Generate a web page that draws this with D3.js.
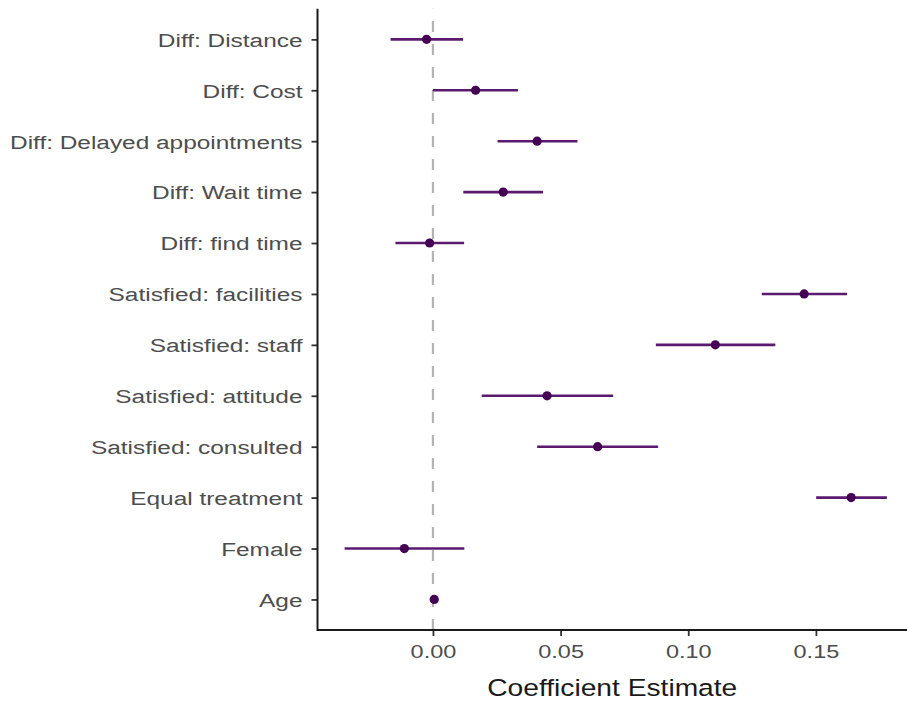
<!DOCTYPE html>
<html>
<head>
<meta charset="utf-8">
<script src="https://cdn.jsdelivr.net/npm/d3@7"></script>
<style>
  html, body { margin: 0; padding: 0; background: #fff; }
  svg { display: block; font-family: "Liberation Sans", Arial, Helvetica, sans-serif; }
</style>
</head>
<body>
<svg id="chart" width="907" height="703"></svg>
<script>
// Model terms, top to bottom
const terms = [
  "Diff: Distance", "Diff: Cost", "Diff: Delayed appointments", "Diff: Wait time",
  "Diff: find time", "Satisfied: facilities", "Satisfied: staff", "Satisfied: attitude",
  "Satisfied: consulted", "Equal treatment", "Female", "Age"
];
// Point estimates
const estimate = [-0.0025, 0.0167, 0.0408, 0.0275, -0.0013, 0.1454, 0.1106, 0.0447, 0.0645, 0.1638, -0.0112, 0.0005];
// 95% interval bounds
const lower = [-0.0166, 0.0000, 0.0253, 0.0119, -0.0147, 0.1288, 0.0873, 0.0191, 0.0408, 0.1501, -0.0346, 0.0003];
const upper = [0.0118, 0.0333, 0.0566, 0.0431, 0.0122, 0.1622, 0.1341, 0.0706, 0.0882, 0.1778, 0.0123, 0.0007];
// Axis ticks
const xTicks = [0.00, 0.05, 0.10, 0.15];
const xTitle = "Coefficient Estimate";

const rows = terms.map((t, i) => ({ term: t, est: estimate[i], lo: lower[i], hi: upper[i] }));

const svg = d3.select("#chart");
const panel = { left: 317.5, right: 914, top: 8.8, bottom: 630 };

// Continuous x with 5% expansion on each side of the data range
const lo = d3.min(lower), hi = d3.max(upper);
const pad = (hi - lo) * 0.05;
const x = d3.scaleLinear().domain([lo - pad, hi + pad]).range([panel.left, panel.right]);

// Discrete y with 0.6-step padding at each end
const y = d3.scalePoint().domain(terms).range([panel.top, panel.bottom]).padding(0.6);

// Reference line at zero
svg.append("line")
  .attr("x1", x(0)).attr("x2", x(0))
  .attr("y1", panel.bottom).attr("y2", panel.top)
  .attr("stroke", "#b3b3b3")
  .attr("stroke-width", 2.2)
  .attr("stroke-dasharray", "11,12");

// Interval bars
svg.append("g").selectAll("line")
  .data(rows)
  .join("line")
  .attr("x1", d => x(d.lo)).attr("x2", d => x(d.hi))
  .attr("y1", d => y(d.term)).attr("y2", d => y(d.term))
  .attr("stroke", "#5a1a70")
  .attr("stroke-width", 2.6);

// Estimates
svg.append("g").selectAll("circle")
  .data(rows)
  .join("circle")
  .attr("cx", d => x(d.est))
  .attr("cy", d => y(d.term))
  .attr("r", 4.6)
  .attr("fill", "#440154");

// Y axis
const yAxis = svg.append("g")
  .attr("transform", `translate(${panel.left},0)`)
  .call(d3.axisLeft(y).tickSize(6).tickPadding(0));
yAxis.select(".domain").remove();
yAxis.selectAll(".tick line").attr("stroke", "#333").attr("stroke-width", 1.8);
yAxis.selectAll(".tick text")
  .attr("x", 0)
  .attr("dy", "0.36em")
  .attr("transform", "translate(-15,0) scale(1.285,1)")
  .attr("fill", "#4d4d4d")
  .attr("font-size", 19)
  .attr("font-family", null);

// X axis
const xAxis = svg.append("g")
  .attr("transform", `translate(0,${panel.bottom})`)
  .call(d3.axisBottom(x).tickValues(xTicks).tickFormat(d3.format(".2f")).tickSize(6));
xAxis.select(".domain").remove();
xAxis.selectAll(".tick line").attr("stroke", "#333").attr("stroke-width", 1.8);
xAxis.selectAll(".tick text")
  .attr("y", 28.5)
  .attr("dy", 0)
  .attr("transform", "scale(1.27,1)")
  .attr("fill", "#4d4d4d")
  .attr("font-size", 18.5)
  .attr("font-family", null);

// Axis lines (L-shaped frame)
svg.append("path")
  .attr("d", `M${panel.left},${panel.top}V${panel.bottom}H${panel.right}`)
  .attr("fill", "none")
  .attr("stroke", "#1a1a1a")
  .attr("stroke-width", 2);

// X axis title
const cx = (panel.left + 907) / 2;
svg.append("text")
  .attr("transform", `translate(${cx},696) scale(1.2,1)`)
  .attr("text-anchor", "middle")
  .attr("font-size", 23.5)
  .attr("fill", "#1a1a1a")
  .text(xTitle);
</script>
</body>
</html>
